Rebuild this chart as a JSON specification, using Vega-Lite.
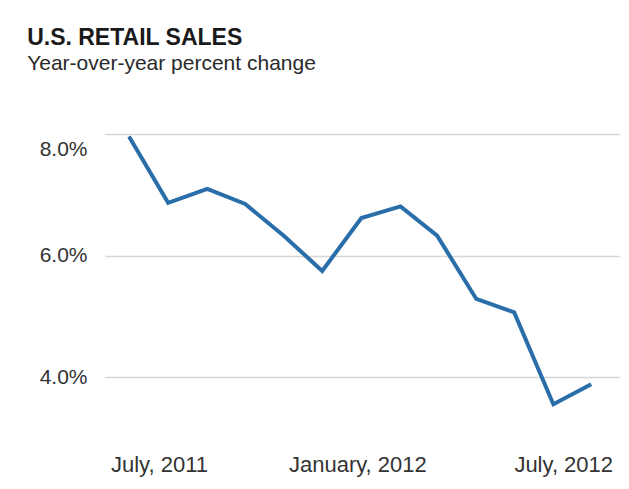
{
  "$schema": "https://vega.github.io/schema/vega-lite/v6.json",
  "width": 514,
  "height": 280,
  "autosize": {"type": "pad"},
  "padding": {"left": 27, "top": 27, "right": 12, "bottom": 4},
  "background": "white",
  "title": {
    "text": "U.S. RETAIL SALES",
    "subtitle": "Year-over-year percent change",
    "anchor": "start",
    "frame": "bounds",
    "dx": -12,
    "font": "Liberation Sans",
    "fontSize": 23,
    "fontWeight": "bold",
    "color": "#1a1a1a",
    "subtitleFont": "Liberation Sans",
    "subtitleFontSize": 21,
    "subtitleColor": "#2a2a2a",
    "subtitlePadding": 3,
    "offset": 54
  },
  "config": {
    "view": {"stroke": null},
    "axis": {"labelFont": "Liberation Sans", "labelFontSize": 21, "labelColor": "#333333"}
  },
  "data": {
    "values": [
      {"month": "2011-07-01", "pct": 7.96},
      {"month": "2011-08-01", "pct": 6.87},
      {"month": "2011-09-01", "pct": 7.10},
      {"month": "2011-10-01", "pct": 6.85},
      {"month": "2011-11-01", "pct": 6.32},
      {"month": "2011-12-01", "pct": 5.75},
      {"month": "2012-01-01", "pct": 6.62},
      {"month": "2012-02-01", "pct": 6.81},
      {"month": "2012-03-01", "pct": 6.33},
      {"month": "2012-04-01", "pct": 5.29},
      {"month": "2012-05-01", "pct": 5.07},
      {"month": "2012-06-01", "pct": 3.56},
      {"month": "2012-07-01", "pct": 3.89}
    ]
  },
  "mark": {"type": "line", "color": "#2a6ea9", "strokeWidth": 4, "strokeJoin": "miter"},
  "encoding": {
    "x": {
      "field": "month",
      "type": "temporal",
      "scale": {
        "type": "utc",
        "domain": [
          {"year": 2011, "month": 6, "date": 12, "utc": true},
          {"year": 2012, "month": 7, "date": 23, "utc": true}
        ]
      },
      "axis": {
        "title": null,
        "domain": false,
        "ticks": false,
        "grid": false,
        "labelPadding": 40,
        "labelBaseline": "top",
        "labelFontSize": 22,
        "values": [
          {"year": 2011, "month": 7, "date": 1, "utc": true},
          {"year": 2012, "month": 1, "date": 1, "utc": true},
          {"year": 2012, "month": 7, "date": 1, "utc": true}
        ],
        "labelExpr": "utcFormat(datum.value, '%B, %Y')",
        "labelOffset": {"expr": "utcyear(datum.value) == 2011 ? 30 : (utcmonth(datum.value) == 6 ? -28 : -4)"}
      }
    },
    "y": {
      "field": "pct",
      "type": "quantitative",
      "scale": {"domain": [3.4, 8], "nice": false, "zero": false},
      "axis": {
        "title": null,
        "domain": false,
        "ticks": false,
        "values": [4, 6, 8],
        "format": ".1f",
        "labelExpr": "format(datum.value, '.1f') + '%'",
        "labelPadding": 18,
        "gridColor": "#d6d6d6",
        "gridWidth": 1.5,
        "labelOffset": {"expr": "datum.value == 8 ? 15 : 0"}
      }
    }
  }
}
